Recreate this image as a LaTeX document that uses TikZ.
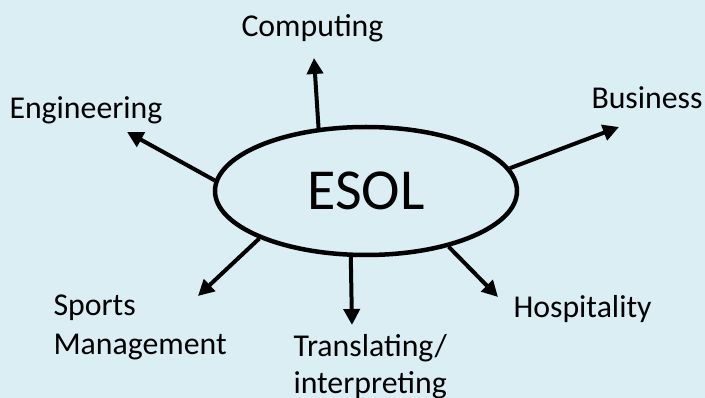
\documentclass[tikz,border=0pt]{standalone}
\usepackage{fontspec}
\setmainfont{Carlito}
\usetikzlibrary{arrows.meta,shapes.geometric}
\definecolor{bgblue}{HTML}{DAEEF3}
\tikzset{
  lbl/.style={inner sep=0pt, outer sep=0pt, anchor=base west, align=left,
              font=\fontsize{31.8}{39}\selectfont},
  conn/.style={line width=4pt, -{Triangle[length=16pt,width=16pt]}},
  hub/.style={ellipse, draw, line width=4.5pt, minimum width=302pt,
              minimum height=128pt, inner sep=0pt,
              font=\fontsize{58}{60}\selectfont}
}
\begin{document}
\begin{tikzpicture}[x=1pt,y=-1pt]
\path[fill=bgblue] (0,0) rectangle (705,398);
\useasboundingbox (0,0) rectangle (705,398);

\node[hub] (esol) at (366,191) {ESOL};

\node[lbl] (comp) at (241.5,37) {Computing};
\node[lbl] (eng) at (9.5,119) {Engineering};
\node[lbl] (bus) at (591.5,109) {Business};
\node[lbl] (sport) at (53.5,355) {Sports\\Management};
\node[lbl, font=\fontsize{31.8}{36}\selectfont] (trans) at (293.5,393) {Translating/\\interpreting};
\node[lbl] (hosp) at (513.5,318) {Hospitality};

\coordinate (tc) at (314,58);
\coordinate (te) at (127,132);
\coordinate (tb) at (619,127);
\coordinate (ts) at (198,296);
\coordinate (tt) at (352,325);
\coordinate (th) at (498,297);

\draw[conn] (esol.127.9) -- (tc);
\draw[conn] (esol.176.2) -- (te);
\draw[conn] (esol.9.7) -- (tb);
\draw[conn] (esol.204.4) -- (ts);
\draw[conn] (esol.257) -- (tt);
\draw[conn] (esol.326.5) -- (th);
\end{tikzpicture}
\end{document}
